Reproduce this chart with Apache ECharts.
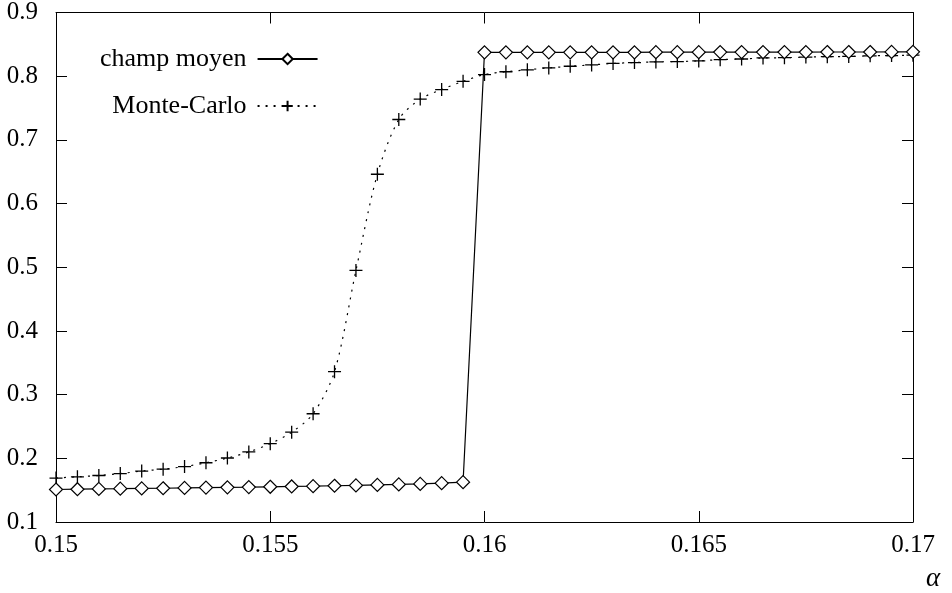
<!DOCTYPE html>
<html>
<head>
<meta charset="utf-8">
<script src="https://cdn.jsdelivr.net/npm/echarts@6/dist/echarts.min.js"></script>
<style>
html,body{margin:0;padding:0;background:#fff;}
#chart{width:952px;height:593px;}
</style>
</head>
<body>
<div id="chart"></div>
<script>
var alpha = [0.15,0.1505,0.151,0.1515,0.152,0.1525,0.153,0.1535,0.154,0.1545,
             0.155,0.1555,0.156,0.1565,0.157,0.1575,0.158,0.1585,0.159,0.1595,
             0.16,0.1605,0.161,0.1615,0.162,0.1625,0.163,0.1635,0.164,0.1645,
             0.165,0.1655,0.166,0.1665,0.167,0.1675,0.168,0.1685,0.169,0.1695,0.17];
var champMoyen = [0.151,0.1515,0.152,0.1523,0.1527,0.153,0.1535,0.154,0.1544,0.1548,
                  0.1553,0.1558,0.1563,0.1569,0.1575,0.1582,0.159,0.1598,0.161,0.1625,
                  0.8375,0.8375,0.8375,0.8375,0.8375,0.8375,0.8375,0.8375,0.8377,0.8377,
                  0.8377,0.8378,0.8378,0.8378,0.8379,0.8379,0.838,0.838,0.838,0.8381,0.8382];
var monteCarlo = [0.169,0.171,0.173,0.176,0.180,0.183,0.187,0.193,0.2005,0.210,
                  0.223,0.241,0.270,0.336,0.495,0.646,0.732,0.764,0.779,0.792,
                  0.8026,0.807,0.810,0.813,0.8156,0.8177,0.820,0.8214,0.8224,0.823,
                  0.824,0.826,0.827,0.8286,0.829,0.830,0.8307,0.831,0.832,0.8323,0.833];
var xTicks = {min:0.15, max:0.17, interval:0.005};
var yTicks = {min:0.1, max:0.9, interval:0.1};
var seriesNames = ['champ moyen','Monte-Carlo'];

function pairs(xs, ys){ return xs.map(function(x,i){ return [x, ys[i]]; }); }

var FONT = 'Liberation Serif';
var chart = echarts.init(document.getElementById('chart'), null, {renderer:'canvas'});
var axisCommon = {
  axisLine:{show:true, lineStyle:{color:'#000', width:1}},
  axisTick:{show:true, inside:true, length:11, lineStyle:{color:'#000', width:1}},
  splitLine:{show:false}
};
function xAxisDef(pos, showLabel){
  return Object.assign({
    type:'value', position:pos, min:xTicks.min, max:xTicks.max, interval:xTicks.interval,
    axisLabel:{show:showLabel, color:'#000', fontFamily:FONT, fontSize:25, margin:11,
      formatter:function(v){ return String(+v.toFixed(4)); }}
  }, axisCommon);
}
function yAxisDef(pos, showLabel){
  return Object.assign({
    type:'value', position:pos, min:yTicks.min, max:yTicks.max, interval:yTicks.interval,
    axisLabel:{show:showLabel, color:'#000', fontFamily:FONT, fontSize:25, margin:18,
      formatter:function(v){ return String(+v.toFixed(2)); }}
  }, axisCommon);
}
chart.setOption({
  animation:false,
  backgroundColor:'#fff',
  grid:{left:56, right:39, top:10, bottom:71},
  xAxis:[xAxisDef('bottom', true), xAxisDef('top', false)],
  yAxis:[yAxisDef('left', true), yAxisDef('right', false)],
  legend:{
    orient:'vertical', align:'right', left:100, top:46, padding:0,
    itemWidth:60, itemHeight:13, itemGap:21,
    textStyle:{color:'#000', fontFamily:FONT, fontSize:26, padding:[0,6,0,0]},
    data:seriesNames
  },
  graphic:[{type:'text', left:926, top:565,
    style:{text:'α', font:'italic 27px "Liberation Serif"', fill:'#000'}}],
  series:[
    {
      name:seriesNames[0], type:'line', data:pairs(alpha, champMoyen),
      symbol:'diamond', symbolSize:[13,13],
      itemStyle:{color:'#fff', borderColor:'#000', borderWidth:1.2},
      lineStyle:{color:'#000', width:1.2, type:'solid'},
      z:3
    },
    {
      name:seriesNames[1], type:'line', data:pairs(alpha, monteCarlo),
      smooth:0.3,
      symbol:'path://M0,6H12M6,0V12', symbolSize:[13,13],
      itemStyle:{color:'transparent', borderColor:'#000', borderWidth:1.3},
      lineStyle:{color:'#000', width:1.2, type:[2,6]},
      z:2
    }
  ]
});
</script>
</body>
</html>
